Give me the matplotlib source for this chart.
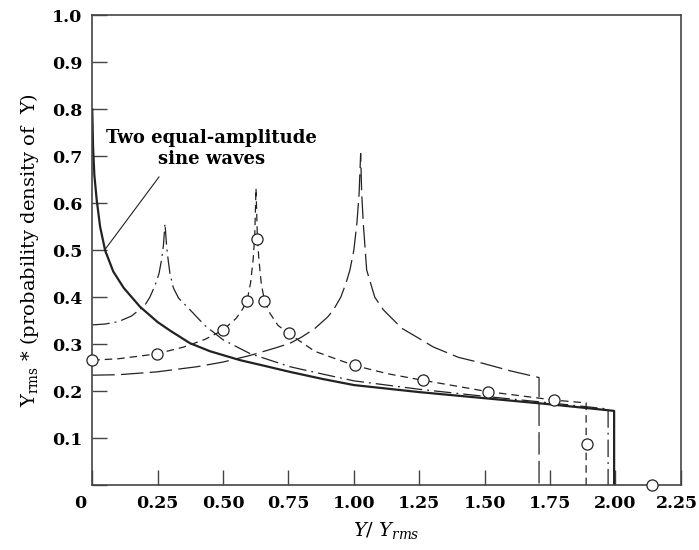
import numpy as np
import matplotlib.pyplot as plt
from matplotlib import transforms

# two equal-amplitude sine waves (solid)
x_two = [0.0, 0.003, 0.008, 0.017, 0.03, 0.049, 0.08, 0.12, 0.182, 0.25, 0.3,
         0.374, 0.45, 0.565, 0.65, 0.756, 0.88, 1.0, 1.25, 1.5, 1.75, 1.995, 1.995]
y_two = [0.80, 0.72, 0.66, 0.607, 0.55, 0.50, 0.455, 0.42, 0.38, 0.347, 0.328,
         0.302, 0.285, 0.266, 0.255, 0.241, 0.226, 0.213, 0.198, 0.185, 0.172,
         0.158, 0.0]

# dash-dot curve, peak near 0.28
x_dd = [0.0, 0.05, 0.1, 0.15, 0.2, 0.22, 0.24, 0.255, 0.265, 0.272, 0.278,
        0.284, 0.29, 0.297, 0.31, 0.33, 0.374, 0.43, 0.501, 0.603, 0.756, 0.9,
        1.0, 1.25, 1.5, 1.75, 1.972, 1.972]
y_dd = [0.341, 0.343, 0.348, 0.36, 0.382, 0.40, 0.425, 0.45, 0.48, 0.51, 0.557,
        0.51, 0.48, 0.45, 0.42, 0.398, 0.373, 0.34, 0.309, 0.28, 0.252, 0.234,
        0.222, 0.204, 0.189, 0.175, 0.162, 0.0]

# dashed curve with circles, peak near 0.63
x_sd = [0.0, 0.1, 0.2, 0.25, 0.35, 0.43, 0.5, 0.55, 0.575, 0.592, 0.605, 0.615,
        0.621, 0.626, 0.631, 0.637, 0.646, 0.658, 0.68, 0.71, 0.751, 0.85, 1.0,
        1.13, 1.266, 1.512, 1.766, 1.888, 1.888]
y_sd = [0.266, 0.269, 0.276, 0.28, 0.294, 0.31, 0.33, 0.355, 0.375, 0.393, 0.43,
        0.48, 0.53, 0.632, 0.53, 0.48, 0.43, 0.393, 0.365, 0.34, 0.323, 0.285,
        0.255, 0.237, 0.223, 0.199, 0.181, 0.175, 0.0]
x_circ = [0.0, 0.246, 0.5, 0.592, 0.629, 0.658, 0.751, 1.006, 1.266, 1.512,
          1.766, 1.89, 2.141]
y_circ = [0.266, 0.28, 0.33, 0.393, 0.525, 0.393, 0.323, 0.255, 0.223, 0.199,
          0.181, 0.087, 0.0]

# long-dash curve, peak near 1.02
x_ld = [0.0, 0.1, 0.246, 0.4, 0.5, 0.603, 0.7, 0.756, 0.8, 0.85, 0.9, 0.922,
        0.95, 0.97, 0.985, 1.0, 1.012, 1.02, 1.026, 1.03, 1.037, 1.049, 1.08,
        1.113, 1.183, 1.25, 1.304, 1.4, 1.495, 1.6, 1.708, 1.708]
y_ld = [0.234, 0.235, 0.241, 0.252, 0.262, 0.276, 0.292, 0.302, 0.315, 0.333,
        0.358, 0.373, 0.40, 0.43, 0.458, 0.50, 0.56, 0.62, 0.706, 0.62, 0.55,
        0.458, 0.40, 0.373, 0.334, 0.312, 0.294, 0.272, 0.259, 0.243, 0.229, 0.0]

xticks = [0, 0.25, 0.5, 0.75, 1.0, 1.25, 1.5, 1.75, 2.0, 2.25]
xlabels = ['0', '0.25', '0.50', '0.75', '1.00', '1.25', '1.50', '1.75', '2.00', '2.25']
yticks = [0, 0.1, 0.2, 0.3, 0.4, 0.5, 0.6, 0.7, 0.8, 0.9, 1.0]
ylabels = [''] + ['%.1f' % v for v in yticks[1:]]

plt.rcParams['font.family'] = 'DejaVu Serif'
plt.rcParams['mathtext.fontset'] = 'dejavuserif'

fig = plt.figure(figsize=(6.99, 5.5), dpi=100)
ax = fig.add_axes([0.132, 0.118, 0.842, 0.854])

ax.plot(x_two, y_two, color='#222222', lw=1.6)
ax.plot(x_dd, y_dd, color='#222222', lw=0.9, dashes=[14, 4, 1.5, 4])
ax.plot(x_sd, y_sd, color='#222222', lw=0.9, dashes=[6, 4])
ax.plot(x_ld, y_ld, color='#222222', lw=0.9, dashes=[18, 5])
ax.plot(x_circ, y_circ, 'o', ms=8, mfc='white', mec='#222222', mew=0.9,
        clip_on=False, zorder=5)

ax.set_xlim(0, 2.25)
ax.set_ylim(0, 1.0)
ax.set_xticks(xticks)
ax.set_xticklabels(xlabels)
ax.set_yticks(yticks)
ax.set_yticklabels(ylabels)
ax.tick_params(direction='in', length=11, width=1.0, color='#444444',
               labelsize=12.5, pad=7)
for lab in ax.get_xticklabels() + ax.get_yticklabels():
    lab.set_fontweight('bold')
# origin label sits left of the axis, last label kept inside the figure
labs = ax.get_xticklabels()
labs[0].set_transform(labs[0].get_transform() +
                      transforms.ScaledTranslation(-0.12, 0, fig.dpi_scale_trans))
labs[-1].set_transform(labs[-1].get_transform() +
                       transforms.ScaledTranslation(-0.04, 0, fig.dpi_scale_trans))

for s in ax.spines.values():
    s.set_color('#444444')
    s.set_linewidth(1.2)

ax.set_xlabel(r'$Y$/ $Y_{rms}$', fontsize=14, labelpad=6)
ax.set_ylabel(r'Y$_{\mathrm{rms}}$ * (probability density of  Y)', fontsize=14,
              labelpad=8)

ax.text(0.455, 0.717, 'Two equal-amplitude\nsine waves', ha='center',
        va='center', fontsize=13, fontweight='bold', linespacing=1.25)
ax.plot([0.255, 0.052], [0.656, 0.504], color='#222222', lw=0.8)

fig.savefig('out.png', dpi=100)
